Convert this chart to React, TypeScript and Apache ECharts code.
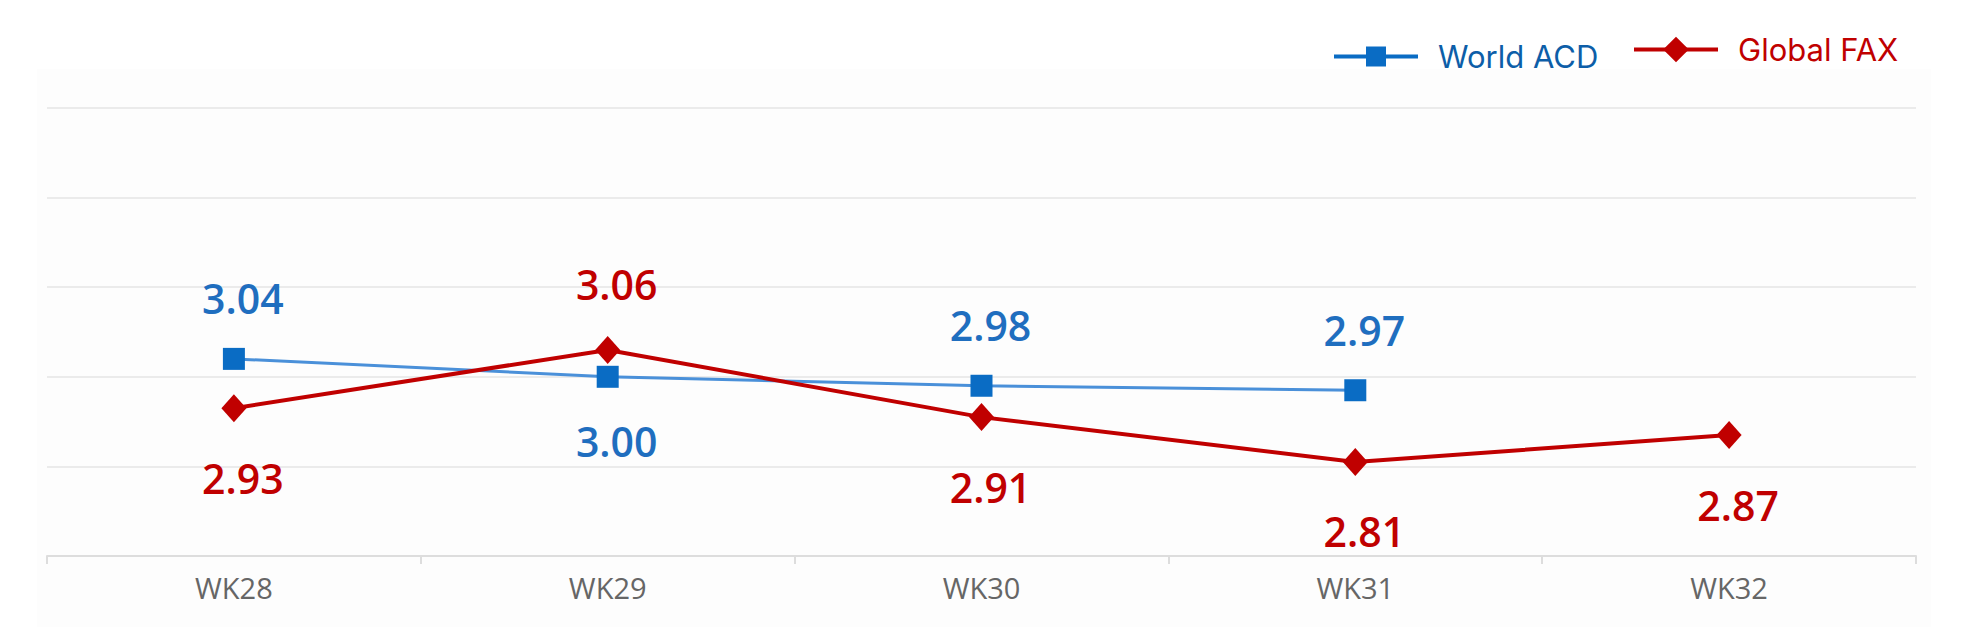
import React, { useEffect, useRef } from "react";
import * as echarts from "echarts";

const categories = ["WK28", "WK29", "WK30", "WK31", "WK32"];
const worldAcd = [3.04, 3.0, 2.98, 2.97, null];
const globalFax = [2.93, 3.06, 2.91, 2.81, 2.87];
const acdLabelSide = ["top", "bottom", "top", "top", "top"];
const faxLabelSide = ["bottom", "top", "bottom", "bottom", "bottom"];
const yMin = 2.6;
const yMax = 3.6;
const yStep = 0.2;

const BLUE_MARK = "#0a6cc4";
const BLUE_LINE = "#4a90d9";
const BLUE_TEXT = "#1f6ebf";
const RED = "#c00000";

export default function App() {
  const ref = useRef<HTMLDivElement>(null);

  useEffect(() => {
    document.body.style.margin = "0";
    const chart = echarts.init(ref.current!, null, { renderer: "svg" });
    const labelFont = {
      fontSize: 41,
      fontWeight: 600 as any,
      fontFamily: "Open Sans",
      offset: [9, 0],
    };
    chart.setOption({
      animation: false,
      backgroundColor: "#ffffff",
      graphic: {
        elements: [
          {
            type: "rect",
            left: 37,
            top: 69,
            z: -10,
            silent: true,
            shape: { width: 1894, height: 558 },
            style: { fill: "#fdfdfd" },
          },
        ],
      },
      legend: [
        {
          data: [{ name: "World ACD", textStyle: { color: "#0d5ea8" } }],
          left: 1332,
          top: 41,
          padding: 0,
          itemWidth: 84,
          itemHeight: 25,
          lineStyle: { color: BLUE_MARK, width: 4 },
          itemStyle: { color: BLUE_MARK },
          textStyle: {
            fontSize: 31,
            fontFamily: "Inter",
            padding: [0, 0, 0, 15],
          },
        },
        {
          data: [{ name: "Global FAX", textStyle: { color: RED } }],
          left: 1632,
          top: 34,
          padding: 0,
          itemWidth: 84,
          itemHeight: 32,
          lineStyle: { color: RED, width: 4 },
          itemStyle: { color: RED },
          textStyle: {
            fontSize: 31,
            fontFamily: "Inter",
            padding: [0, 0, 0, 15],
          },
        },
      ],
      grid: { left: 47, right: 52, top: 108, bottom: 84, containLabel: false },
      xAxis: {
        type: "category",
        data: categories,
        boundaryGap: true,
        axisLine: { lineStyle: { color: "#dddddd", width: 2 } },
        axisTick: { show: true, length: 8, lineStyle: { color: "#dddddd", width: 2 } },
        axisLabel: {
          color: "#666666",
          fontSize: 29,
          fontFamily: "Open Sans",
          margin: 17,
        },
      },
      yAxis: {
        type: "value",
        min: yMin,
        max: yMax,
        interval: yStep,
        axisLabel: { show: false },
        axisLine: { show: false },
        axisTick: { show: false },
        splitLine: { lineStyle: { color: "#ebebeb", width: 2 } },
      },
      series: [
        {
          name: "World ACD",
          type: "line",
          data: worldAcd.map((v, i) => ({
            value: v,
            label: {
              position: acdLabelSide[i],
              distance: acdLabelSide[i] === "top" ? 29 : 33,
            },
          })),
          symbol: "rect",
          symbolSize: 22,
          connectNulls: false,
          lineStyle: { color: BLUE_LINE, width: 3 },
          itemStyle: { color: BLUE_MARK },
          label: {
            show: true,
            color: BLUE_TEXT,
            ...labelFont,
            formatter: (p: any) => Number(p.value).toFixed(2),
          },
        },
        {
          name: "Global FAX",
          type: "line",
          data: globalFax.map((v, i) => ({
            value: v,
            label: {
              position: faxLabelSide[i],
              distance: faxLabelSide[i] === "top" ? 31 : 35,
            },
          })),
          symbol: "diamond",
          symbolSize: [25, 28],
          lineStyle: { color: RED, width: 4 },
          itemStyle: { color: RED },
          label: {
            show: true,
            color: RED,
            ...labelFont,
            formatter: (p: any) => Number(p.value).toFixed(2),
          },
        },
      ],
    });
    return () => chart.dispose();
  }, []);

  return (
    <div
      ref={ref}
      style={{ position: "absolute", left: 0, top: 0, width: 1968, height: 640 }}
    />
  );
}
